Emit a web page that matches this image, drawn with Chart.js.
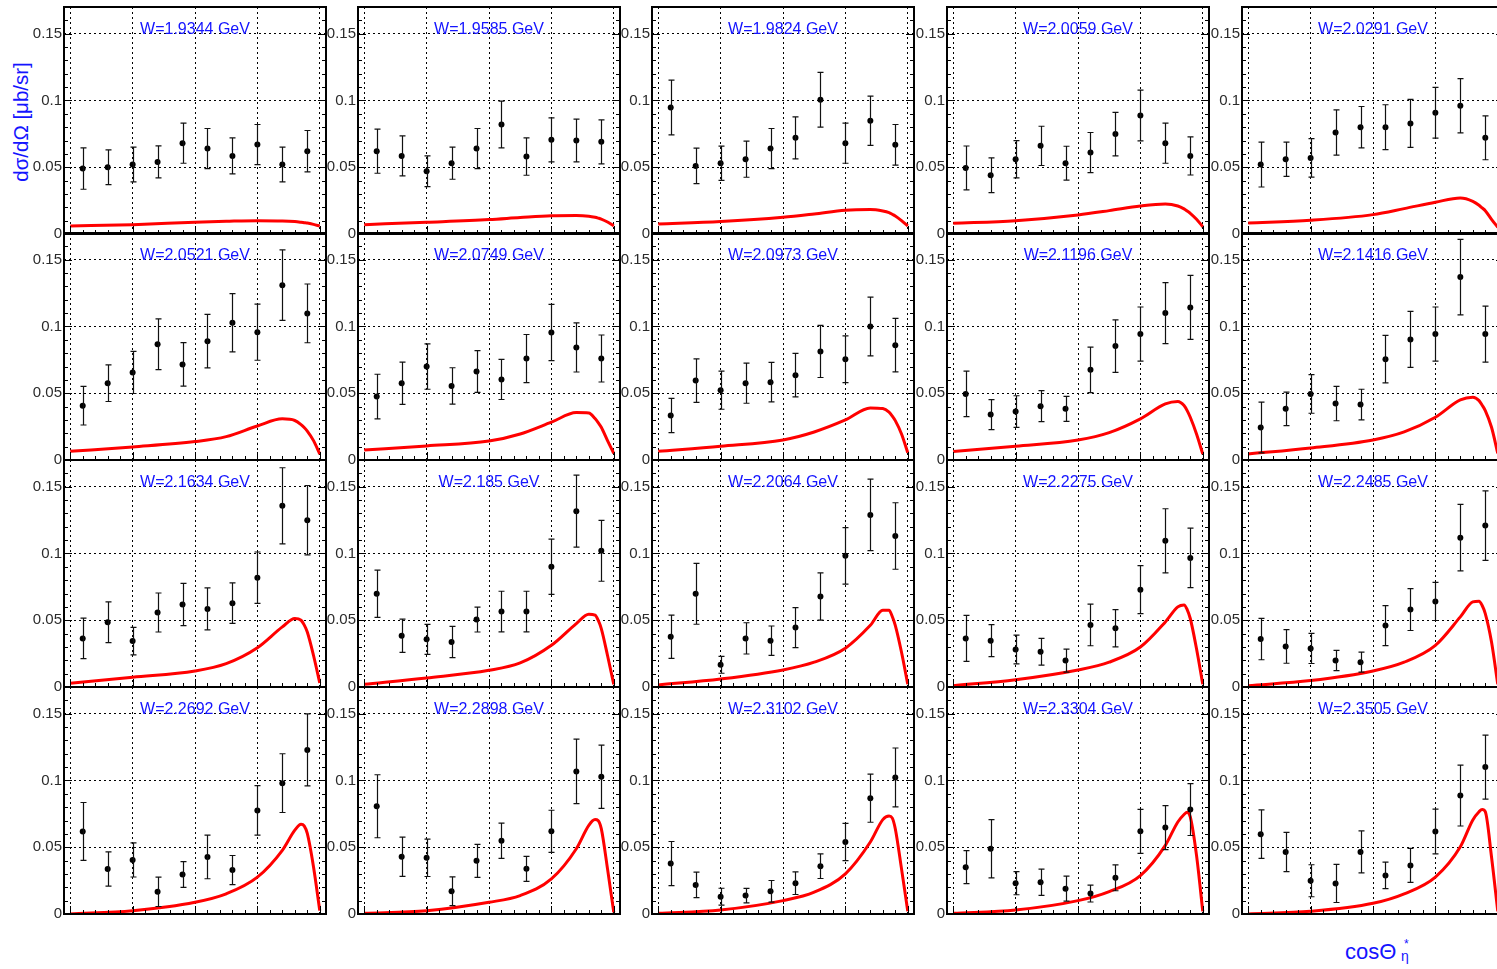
<!DOCTYPE html>
<html>
<head>
<meta charset="utf-8">
<title>eta photoproduction - dsigma/dOmega</title>
<script src="https://cdn.jsdelivr.net/npm/chart.js@4.4.1/dist/chart.umd.min.js"></script>
<style>
  html, body { margin: 0; padding: 0; background: #fff; overflow: hidden; }
  body { width: 1497px; height: 969px; position: relative; }
  canvas.pad { position: absolute; }
  .blue { position: absolute; color: #1414ff; font-family: "Liberation Sans", Arial, Helvetica, sans-serif; white-space: nowrap; }
  #ytitle { left: 21px; top: 122px; font-size: 20.5px; line-height: 20px; transform: translate(-50%, -50%) rotate(-90deg); }
  #xtitle { left: 1345px; top: 941px; font-size: 22px; line-height: 22px; }
  #xsup { left: 1404px; top: 938px; font-size: 12px; line-height: 12px; }
  #xsub { left: 1401px; top: 949px; font-size: 14px; line-height: 14px; }
</style>
</head>
<body>
<div id="ytitle" class="blue">dσ/dΩ [μb/sr]</div>
<div id="xtitle" class="blue">cosΘ</div>
<div id="xsup" class="blue">*</div>
<div id="xsub" class="blue">η</div>
<script>
const FONT = '"Liberation Sans", Arial, Helvetica, sans-serif';

// one panel per W bin, read row by row
const W_LABELS = [
  "W=1.9344 GeV", "W=1.9585 GeV", "W=1.9824 GeV", "W=2.0059 GeV", "W=2.0291 GeV",
  "W=2.0521 GeV", "W=2.0749 GeV", "W=2.0973 GeV", "W=2.1196 GeV", "W=2.1416 GeV",
  "W=2.1634 GeV", "W=2.185 GeV", "W=2.2064 GeV", "W=2.2275 GeV", "W=2.2485 GeV",
  "W=2.2692 GeV", "W=2.2898 GeV", "W=2.3102 GeV", "W=2.3304 GeV", "W=2.3505 GeV"
];

// cos theta* bin centres of the measured points
const COS_BINS = [-0.9, -0.7, -0.5, -0.3, -0.1, 0.1, 0.3, 0.5, 0.7, 0.9];

// measured dsigma/dOmega [ub/sr]
const XSEC = [
  [0.049, 0.050, 0.052, 0.054, 0.068, 0.064, 0.0585, 0.067, 0.052, 0.062],
  [0.062, 0.0585, 0.047, 0.053, 0.064, 0.082, 0.058, 0.0705, 0.070, 0.069],
  [0.0948, 0.051, 0.053, 0.056, 0.064, 0.072, 0.1005, 0.068, 0.0848, 0.0668],
  [0.0495, 0.044, 0.056, 0.066, 0.053, 0.061, 0.0748, 0.0888, 0.068, 0.0585],
  [0.052, 0.056, 0.057, 0.076, 0.080, 0.080, 0.0828, 0.0908, 0.096, 0.072],
  [0.0407, 0.0575, 0.0656, 0.0867, 0.0716, 0.089, 0.1028, 0.0957, 0.1309, 0.1098],
  [0.0475, 0.0575, 0.070, 0.0555, 0.0663, 0.0603, 0.076, 0.0955, 0.0843, 0.076],
  [0.0333, 0.0595, 0.0523, 0.0575, 0.0583, 0.0635, 0.0813, 0.0755, 0.100, 0.086],
  [0.0495, 0.034, 0.0363, 0.0403, 0.0383, 0.0675, 0.0853, 0.0943, 0.110, 0.1143],
  [0.0243, 0.0383, 0.0495, 0.0423, 0.0415, 0.0755, 0.0903, 0.0943, 0.137, 0.0943],
  [0.0364, 0.0485, 0.0344, 0.0558, 0.0618, 0.0585, 0.0628, 0.0819, 0.1357, 0.1249],
  [0.0698, 0.0384, 0.0357, 0.0337, 0.0505, 0.0565, 0.0565, 0.090, 0.1317, 0.102],
  [0.0377, 0.0698, 0.0166, 0.0364, 0.0347, 0.0445, 0.0678, 0.0982, 0.1289, 0.1131],
  [0.0364, 0.0347, 0.0281, 0.0264, 0.0198, 0.0465, 0.044, 0.0729, 0.1095, 0.0967],
  [0.0359, 0.0304, 0.0289, 0.0198, 0.0186, 0.046, 0.058, 0.0641, 0.1118, 0.1209],
  [0.0618, 0.0337, 0.0405, 0.0166, 0.0296, 0.0427, 0.0329, 0.0776, 0.098, 0.1229],
  [0.0807, 0.0429, 0.0421, 0.017, 0.0398, 0.0549, 0.0338, 0.0619, 0.1068, 0.1028],
  [0.0378, 0.0218, 0.013, 0.0138, 0.017, 0.0231, 0.0358, 0.0539, 0.0867, 0.1023],
  [0.0351, 0.0489, 0.0231, 0.0238, 0.019, 0.0153, 0.0271, 0.0619, 0.0647, 0.0782],
  [0.0598, 0.0465, 0.0249, 0.0229, 0.0465, 0.0289, 0.0364, 0.0618, 0.0887, 0.110]
];

// total errors of the points
const XSEC_ERR = [
  [0.0155, 0.013, 0.013, 0.012, 0.015, 0.015, 0.0135, 0.015, 0.013, 0.0155],
  [0.0165, 0.015, 0.0115, 0.012, 0.015, 0.0175, 0.014, 0.0165, 0.016, 0.0165],
  [0.0205, 0.0133, 0.0128, 0.0135, 0.015, 0.0157, 0.0205, 0.015, 0.0185, 0.0152],
  [0.0164, 0.013, 0.014, 0.0147, 0.0127, 0.015, 0.0163, 0.019, 0.015, 0.0143],
  [0.0168, 0.0128, 0.0144, 0.017, 0.0155, 0.0168, 0.018, 0.019, 0.0203, 0.0164],
  [0.0145, 0.0137, 0.0158, 0.019, 0.0163, 0.020, 0.0218, 0.021, 0.0264, 0.022],
  [0.0167, 0.0158, 0.017, 0.0136, 0.0156, 0.015, 0.018, 0.0211, 0.0184, 0.0176],
  [0.0128, 0.0163, 0.0143, 0.015, 0.0148, 0.0163, 0.0195, 0.0175, 0.022, 0.020],
  [0.017, 0.0112, 0.0118, 0.0116, 0.0094, 0.017, 0.0197, 0.0203, 0.0228, 0.024],
  [0.019, 0.0126, 0.0145, 0.0129, 0.0115, 0.0178, 0.021, 0.0203, 0.0283, 0.021],
  [0.0152, 0.0153, 0.0103, 0.0146, 0.0158, 0.0157, 0.0152, 0.0192, 0.0285, 0.026],
  [0.0177, 0.0125, 0.0112, 0.0117, 0.0093, 0.0152, 0.0152, 0.0207, 0.027, 0.0228],
  [0.0162, 0.0228, 0.0063, 0.0117, 0.011, 0.015, 0.0177, 0.0211, 0.0268, 0.0249],
  [0.0172, 0.012, 0.0108, 0.010, 0.0086, 0.0156, 0.014, 0.018, 0.024, 0.0223],
  [0.0155, 0.0126, 0.0113, 0.0076, 0.0075, 0.015, 0.0157, 0.0143, 0.0249, 0.026],
  [0.0217, 0.0128, 0.0128, 0.011, 0.0096, 0.0163, 0.0109, 0.0186, 0.022, 0.027],
  [0.0236, 0.0147, 0.014, 0.0108, 0.0123, 0.0132, 0.0093, 0.0158, 0.0242, 0.0237],
  [0.0165, 0.0095, 0.0063, 0.0054, 0.0081, 0.0085, 0.0092, 0.014, 0.018, 0.022],
  [0.0123, 0.0218, 0.0087, 0.0098, 0.0093, 0.0063, 0.0097, 0.0165, 0.0165, 0.0194],
  [0.0182, 0.0147, 0.012, 0.0143, 0.0157, 0.0099, 0.0127, 0.0167, 0.0228, 0.024]
];

// model curve (red), read at these cos theta* values
const MODEL_X = [-1, -0.5, 0, 0.25, 0.5, 0.7, 0.8, 0.85, 0.875, 0.9, 0.95, 1];
const MODEL = [
  [0.006, 0.007, 0.0088, 0.0095, 0.010, 0.0098, 0.0093, 0.0088, 0.0085, 0.0082, 0.0072, 0.006],
  [0.007, 0.0088, 0.0108, 0.0123, 0.0136, 0.0138, 0.0133, 0.0125, 0.0119, 0.0112, 0.009, 0.006],
  [0.0075, 0.0093, 0.0125, 0.015, 0.0178, 0.0183, 0.0172, 0.016, 0.0148, 0.0135, 0.010, 0.006],
  [0.008, 0.010, 0.0143, 0.0175, 0.021, 0.0225, 0.021, 0.0188, 0.0172, 0.0155, 0.011, 0.0055],
  [0.0083, 0.0103, 0.0145, 0.019, 0.0238, 0.027, 0.0245, 0.0215, 0.0195, 0.0175, 0.011, 0.005],
  [0.0065, 0.0098, 0.0138, 0.0175, 0.0255, 0.0308, 0.0296, 0.0265, 0.0243, 0.0216, 0.0145, 0.0045],
  [0.0075, 0.0105, 0.0142, 0.0195, 0.0283, 0.0355, 0.0352, 0.031, 0.028, 0.0245, 0.0145, 0.005],
  [0.0065, 0.0103, 0.015, 0.021, 0.030, 0.039, 0.0385, 0.0358, 0.033, 0.0295, 0.0195, 0.0055],
  [0.0063, 0.0103, 0.015, 0.0205, 0.0308, 0.042, 0.0438, 0.0408, 0.037, 0.032, 0.0195, 0.0045],
  [0.0045, 0.009, 0.015, 0.021, 0.032, 0.045, 0.047, 0.0445, 0.041, 0.037, 0.0245, 0.005],
  [0.0028, 0.0073, 0.012, 0.0175, 0.0294, 0.045, 0.0513, 0.050, 0.0465, 0.0412, 0.0236, 0.003],
  [0.002, 0.0068, 0.0125, 0.018, 0.0312, 0.0475, 0.0545, 0.0538, 0.050, 0.0437, 0.0236, 0.002],
  [0.0015, 0.006, 0.0128, 0.0186, 0.0291, 0.0462, 0.0575, 0.0575, 0.053, 0.0462, 0.026, 0.002],
  [0.001, 0.0055, 0.0128, 0.0186, 0.0299, 0.0487, 0.060, 0.0615, 0.058, 0.0513, 0.0286, 0.002],
  [0.001, 0.0048, 0.012, 0.0186, 0.0312, 0.0525, 0.0638, 0.0643, 0.061, 0.055, 0.0337, 0.002],
  [0.0, 0.0025, 0.0088, 0.0151, 0.0276, 0.0477, 0.0628, 0.0673, 0.066, 0.0603, 0.0352, 0.0025],
  [0.0005, 0.0025, 0.0088, 0.0138, 0.0263, 0.0489, 0.0664, 0.0707, 0.070, 0.0639, 0.0338, 0.0013],
  [0.0005, 0.003, 0.010, 0.0163, 0.0301, 0.0539, 0.0707, 0.0734, 0.072, 0.0639, 0.0338, 0.002],
  [0.0005, 0.003, 0.010, 0.0168, 0.0288, 0.0514, 0.0689, 0.0745, 0.0762, 0.0727, 0.0439, 0.002],
  [0.0, 0.002, 0.008, 0.0151, 0.0276, 0.0503, 0.0704, 0.0766, 0.0783, 0.0766, 0.0427, 0.002]
];

// axes
const X_MIN = -1.05, X_MAX = 1.05;
const Y_MIN = 0, Y_MAX = 0.17;
const X_GRID = [-1, -0.5, 0, 0.5, 1];
const Y_GRID = [0, 0.05, 0.1, 0.15];

// layout of the 5x4 grid of pads (plot frame corners, px)
const COL_LEFT = [64, 358, 652, 947, 1242];
const ROW_TOP = [7, 233, 460, 687];
const PLOT_W = 264, PLOT_H = 227;
const LABEL_W = 36, PAD_T = 12, PAD_R = 2, PAD_B = 12;

const fmt = v => String(parseFloat(v.toFixed(3)));

function decorPlugin(i) {
  return {
    id: "decor" + i,
    afterDatasetsDraw(chart) {
      // error bars
      const ctx = chart.ctx, xs = chart.scales.x, ys = chart.scales.y;
      ctx.save();
      ctx.strokeStyle = "#111";
      ctx.lineWidth = 1.2;
      COS_BINS.forEach((c, k) => {
        const px = Math.round(xs.getPixelForValue(c)) + 0.5;
        const lo = ys.getPixelForValue(Math.max(Y_MIN, XSEC[i][k] - XSEC_ERR[i][k]));
        const hi = ys.getPixelForValue(XSEC[i][k] + XSEC_ERR[i][k]);
        ctx.beginPath();
        ctx.moveTo(px, lo); ctx.lineTo(px, hi);
        ctx.moveTo(px - 3, lo); ctx.lineTo(px + 3, lo);
        ctx.moveTo(px - 3, hi); ctx.lineTo(px + 3, hi);
        ctx.stroke();
      });
      ctx.restore();
    },
    afterDraw(chart) {
      const ctx = chart.ctx, a = chart.chartArea;
      const xs = chart.scales.x, ys = chart.scales.y;
      ctx.save();
      // inner ticks
      ctx.strokeStyle = "#000";
      ctx.lineWidth = 1;
      ctx.beginPath();
      for (let k = -10; k <= 10; k++) {
        const px = Math.round(xs.getPixelForValue(k / 10)) + 0.5;
        const len = k % 5 === 0 ? 8 : 4;
        ctx.moveTo(px, a.bottom); ctx.lineTo(px, a.bottom - len);
      }
      for (let k = 0; k <= 17; k++) {
        const py = Math.round(ys.getPixelForValue(k / 100)) + 0.5;
        const len = k % 5 === 0 ? 8 : 4;
        ctx.moveTo(a.left, py); ctx.lineTo(a.left + len, py);
        ctx.moveTo(a.right, py); ctx.lineTo(a.right - len, py);
      }
      ctx.stroke();
      // frame
      ctx.lineWidth = 2;
      ctx.strokeRect(a.left, a.top, a.right - a.left, a.bottom - a.top);
      // W label
      ctx.font = "16px " + FONT;
      ctx.fillStyle = "#1414ff";
      ctx.textAlign = "center";
      ctx.textBaseline = "alphabetic";
      ctx.fillText(W_LABELS[i], (a.left + a.right) / 2, a.top + 26.5);
      ctx.restore();
    }
  };
}

function makePanel(i) {
  const r = Math.floor(i / 5), c = i % 5;
  const cv = document.createElement("canvas");
  cv.className = "pad";
  cv.width = LABEL_W + PLOT_W + PAD_R;
  cv.height = PAD_T + PLOT_H + PAD_B;
  cv.style.left = (COL_LEFT[c] - LABEL_W) + "px";
  cv.style.top = (ROW_TOP[r] - PAD_T) + "px";
  document.body.appendChild(cv);

  const gridOpts = { color: "#000", lineWidth: 1, drawTicks: false };
  const borderOpts = { display: false, dash: [2, 3] };

  new Chart(cv, {
    type: "scatter",
    data: {
      datasets: [
        {
          data: COS_BINS.map((x, k) => ({ x: x, y: XSEC[i][k] })),
          pointRadius: 3,
          pointBackgroundColor: "#000",
          pointBorderWidth: 0,
          showLine: false
        },
        {
          type: "line",
          data: MODEL_X.map((x, k) => ({ x: x, y: MODEL[i][k] })),
          borderColor: "#ff0000",
          borderWidth: 3,
          pointRadius: 0,
          fill: false,
          cubicInterpolationMode: "monotone"
        }
      ]
    },
    options: {
      responsive: false,
      animation: false,
      events: [],
      layout: { padding: { top: PAD_T, right: PAD_R, bottom: PAD_B, left: 0 } },
      plugins: { legend: { display: false }, tooltip: { enabled: false } },
      scales: {
        x: {
          type: "linear",
          min: X_MIN, max: X_MAX, bounds: "data",
          afterBuildTicks: s => { s.ticks = X_GRID.map(v => ({ value: v })); },
          afterFit: s => { s.height = 0; },
          ticks: { display: false },
          grid: gridOpts,
          border: borderOpts
        },
        y: {
          type: "linear",
          min: Y_MIN, max: Y_MAX, bounds: "data",
          afterBuildTicks: s => { s.ticks = Y_GRID.map(v => ({ value: v })); },
          afterFit: s => { s.width = LABEL_W; },
          ticks: {
            font: { family: FONT, size: 15 },
            color: "#2b2b2b",
            padding: 2,
            callback: v => fmt(v)
          },
          grid: gridOpts,
          border: borderOpts
        }
      }
    },
    plugins: [decorPlugin(i)]
  });
}

for (let i = 0; i < W_LABELS.length; i++) makePanel(i);
</script>
</body>
</html>
